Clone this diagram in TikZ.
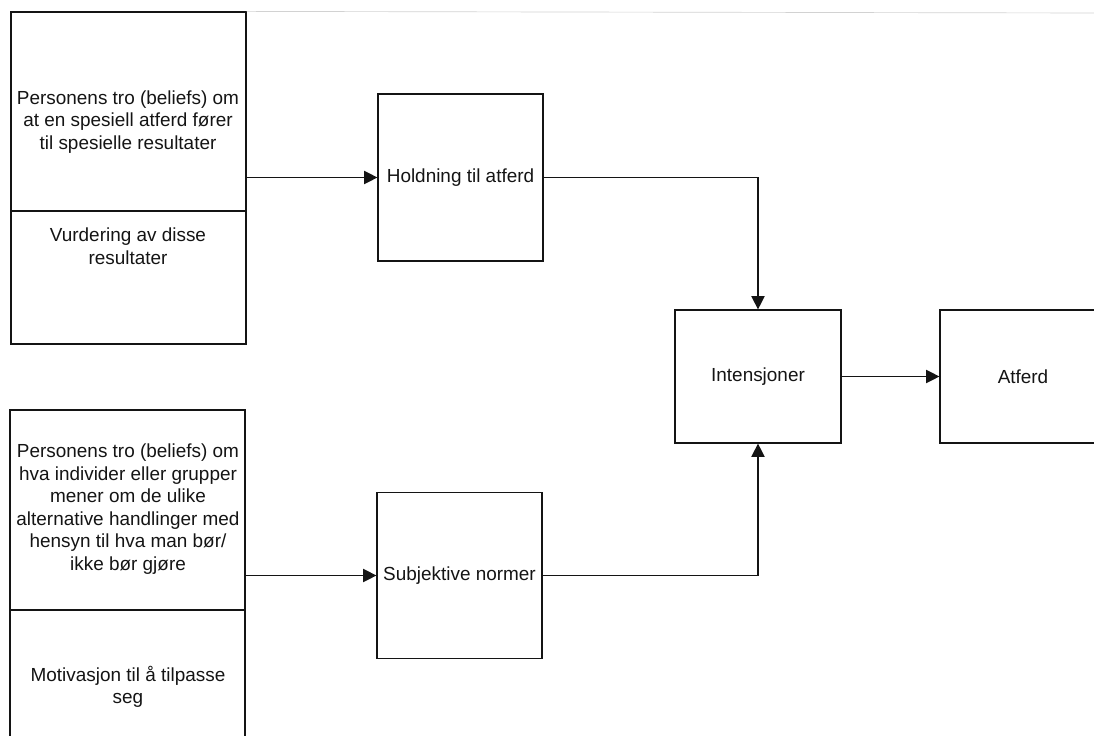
\documentclass[tikz,border=0pt]{standalone}
\usepackage{fontspec}
\setmainfont{Liberation Sans}
\usepackage{tikz}
\usetikzlibrary{arrows.meta}
\definecolor{ink}{HTML}{141414}
\definecolor{scan}{HTML}{D2D2D2}
\tikzset{
  box/.style={draw=ink, line width=0.9pt, inner sep=0pt},
  lab/.style={text=ink, font=\fontsize{14.2}{16.9}\selectfont, align=center},
  arr/.style={draw=ink, line width=0.9pt, -{Triangle[length=10pt,width=10pt]}},
}

\begin{document}
\begin{tikzpicture}[x=0.75pt, y=-0.75pt]
  \useasboundingbox (0,0) rectangle (1094,735);
  \clip (0,0) rectangle (1094,735);

  % left column: beliefs and evaluations
  \node[box, minimum width=176.25pt, minimum height=149.25pt] (tl) at (128.5,111.5) {};
  \node[box, minimum width=176.25pt, minimum height=99.75pt] (tlb) at (128.5,277.5) {};
  \node[box, minimum width=176.25pt, minimum height=150pt] (bl) at (127.5,510) {};
  \node[box, minimum width=176.25pt, minimum height=150pt] (blb) at (127.5,710) {};
  \node[lab] (tltext) at (128,122) {Personens tro (beliefs) om\\at en spesiell atferd fører\\til spesielle resultater};
  \node[lab] (tlbtext) at (128,246) {Vurdering av disse\\resultater};
  \node[lab] (bltext) at (128,509) {Personens tro (beliefs) om\\hva individer eller grupper\\mener om de ulike\\alternative handlinger med\\hensyn til hva man bør/\\ikke bør gjøre};
  \node[lab] (blbtext) at (128,687) {Motivasjon til å tilpasse\\seg};

  % middle and right
  \node[box, lab, minimum width=123.75pt, minimum height=125.25pt] (hold) at (460.5,177.5) {Holdning til atferd};
  \node[box, lab, minimum width=123.75pt, minimum height=124.5pt] (subj) at (459.5,575.5) {Subjektive normer};
  \node[box, lab, minimum width=124.5pt, minimum height=99.75pt] (int) at (758,376.5) {Intensjoner};
  \node[box, lab, minimum width=124.5pt, minimum height=99.75pt] (atf) at (1023,376.5) {Atferd};

  % faint scan edge along the top
  \coordinate (edge) at (1094,13);
  \draw[scan, line width=0.5pt] (tl.north east) -- (edge);

  \draw[arr] (hold.west -| tl.east) -- (hold.west);
  \draw[arr] (subj.west -| bl.east) -- (subj.west);
  \draw[arr] (hold.east) -| (int.north);
  \draw[arr] (subj.east) -| (int.south);
  \draw[arr] (int.east) -- (atf.west);
\end{tikzpicture}
\end{document}
